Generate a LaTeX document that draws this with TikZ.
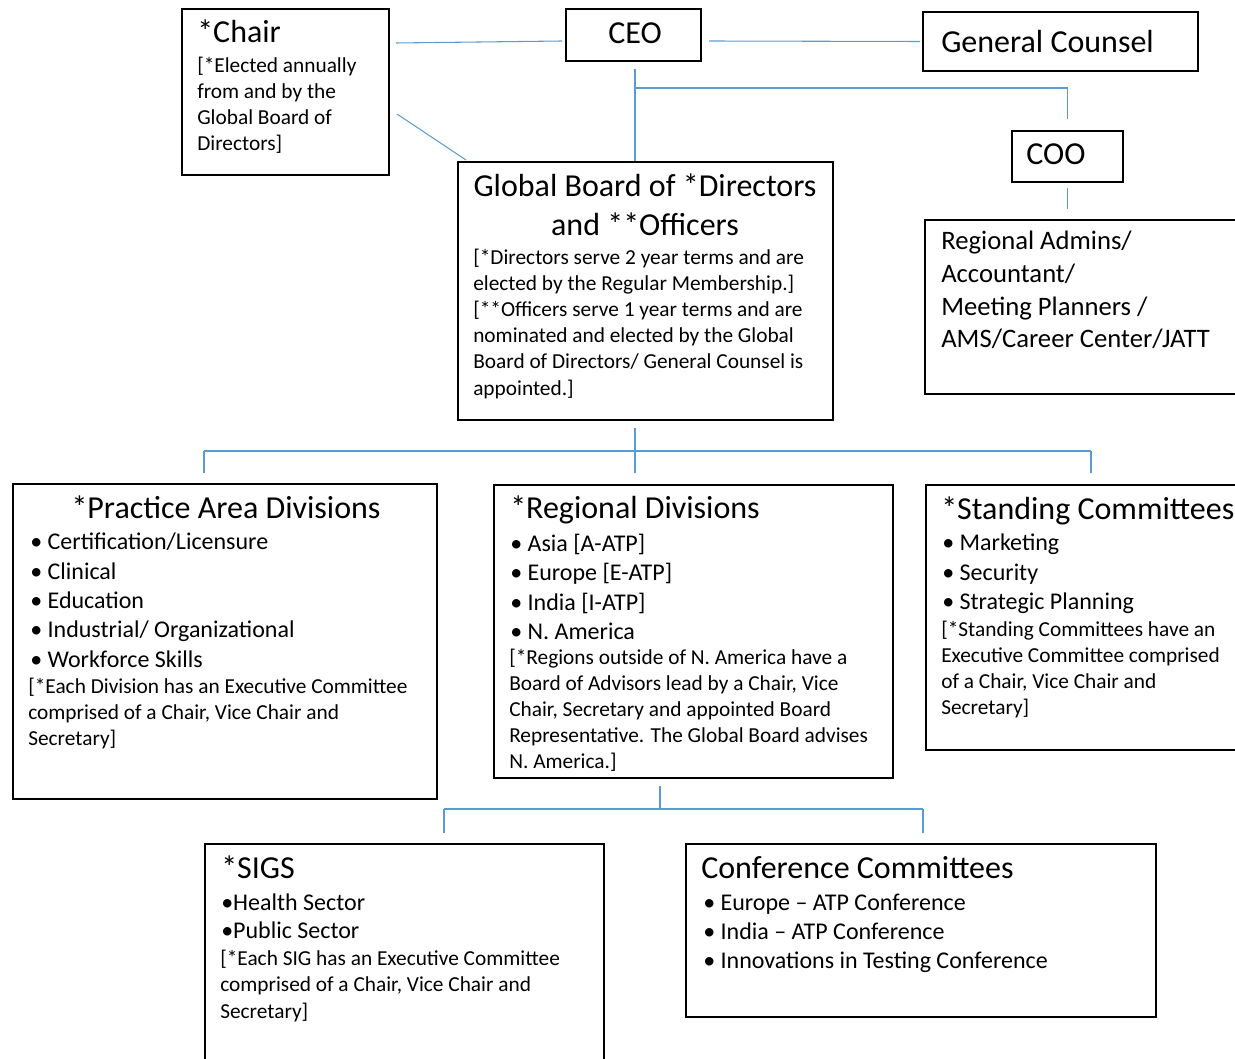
\documentclass[tikz,border=0pt]{standalone}
\usepackage{fontspec}
\setmainfont{Carlito}
\usetikzlibrary{fit}

\definecolor{linkblue}{RGB}{91,155,213}

\tikzset{
  box/.style={draw=black, line width=1.5pt, inner sep=0pt},
  link/.style={draw=linkblue, line width=0.8pt},
  ttl/.style={font=\fontsize{24}{29.25}\selectfont, inner sep=0pt, anchor=base west},
  note/.style={font=\fontsize{16}{19.6}\selectfont, inner sep=0pt, anchor=north west, align=left},
  items/.style={font=\fontsize{18}{21.95}\selectfont, inner sep=0pt, anchor=north west, align=left},
  staff/.style={font=\fontsize{20}{24.5}\selectfont, inner sep=0pt, anchor=north west, align=left}
}

\begin{document}
\begin{tikzpicture}[x=0.75pt, y=-0.75pt]
\useasboundingbox (0,0) rectangle (1235,1059);
\clip (0,0) rectangle (1235,1059);

% boxes
\node[box, fit={(182,9)(389,175)}] (chair) {};
\node[box, fit={(566,9)(701,61)}] (ceo) {};
\node[box, fit={(923,12)(1198,71)}] (gc) {};
\node[box, fit={(1012,131)(1123,182)}] (coo) {};
\node[box, fit={(925,220)(1260,394)}] (admins) {};
\node[box, fit={(458,162)(833,420)}] (board) {};
\node[box, fit={(13,484)(437,799)}] (practice) {};
\node[box, fit={(494,485)(893,778)}] (regional) {};
\node[box, fit={(926,485)(1260,750)}] (standing) {};
\node[box, fit={(205,844)(604,1080)}] (sigs) {};
\node[box, fit={(686,844)(1156,1017)}] (conf) {};

% texts
\node[ttl] (chairttl) at (197,43) {*Chair};
\node[note] (chairnote) at (197,56.7) {[*Elected annually\\from and by the\\Global Board of\\Directors]};
\node[ttl, anchor=base] (ceottl) at (635,44) {CEO};
\node[ttl] (gcttl) at (941,53) {General Counsel};
\node[ttl] (coottl) at (1026,165) {COO};
\node[staff] (staffs) at (941,231) {Regional Admins/\\Accountant/\\Meeting Planners /\\AMS/Career Center/JATT};

\node[ttl, anchor=north, align=center] (boardttl) at (645,173.5) {Global Board of *Directors\\and **Officers};
\node[note] (boardnote) at (473,248.7) {[*Directors serve 2 year terms and are\\elected by the Regular Membership.]\\{}[**Officers serve 1 year terms and are\\nominated and elected by the Global\\Board of Directors/ General Counsel is\\appointed.]};

\node[ttl, anchor=base] (practicettl) at (226,518) {*Practice Area Divisions};
\node[items] (practicelist) at (30,533) {• Certification/Licensure\\• Clinical\\• Education\\• Industrial/ Organizational\\• Workforce Skills};
\node[note] (practicenote) at (28,677.7) {[*Each Division has an Executive Committee\\comprised of a Chair, Vice Chair and\\Secretary]};

\node[ttl] (regionalttl) at (510,518) {*Regional Divisions};
\node[items] (regionallist) at (510,534) {• Asia [A-ATP]\\• Europe [E-ATP]\\• India [I-ATP]\\• N. America};
\node[note] (regionalnote) at (509,648.7) {[*Regions outside of N. America have a\\Board of Advisors lead by a Chair, Vice\\Chair, Secretary and appointed Board\\Representative. The Global Board advises\\N. America.]};

\node[ttl] (standingttl) at (941,519) {*Standing Committees};
\node[items] (standinglist) at (942,534) {• Marketing\\• Security\\• Strategic Planning};
\node[note] (standingnote) at (941,620.7) {[*Standing Committees have an\\Executive Committee comprised\\of a Chair, Vice Chair and\\Secretary]};

\node[ttl] (sigsttl) at (221,878) {*SIGS};
\node[items, font=\fontsize{18}{21}\selectfont] (sigslist) at (221,894) {•Health Sector\\•Public Sector};
\node[note, font=\fontsize{16}{19.9}\selectfont] (sigsnote) at (220,949.7) {[*Each SIG has an Executive Committee\\comprised of a Chair, Vice Chair and\\Secretary]};

\node[ttl] (confttl) at (701,878) {Conference Committees};
\node[items, font=\fontsize{18}{21.75}\selectfont] (conflist) at (703,894) {• Europe – ATP Conference\\• India – ATP Conference\\• Innovations in Testing Conference};

% connectors
\coordinate (ceofork) at (635,88);
\coordinate (boardfork) at (635,451);
\coordinate (regionalfork) at (660,809);

\draw[link] ([shift={(6,-49)}]chair.east) -- ([shift={(-3,6)}]ceo.west);
\draw[link] ([shift={(7,22)}]chair.east) -- ([shift={(9,-1)}]board.north west);
\draw[link] ([shift={(7,6)}]ceo.east) -- ([shift={(-2,0)}]gc.west);
\draw[link] ([shift={(1.5,7)}]ceo.south) -- ([shift={(-10.5,0)}]board.north);
\draw[link] (ceofork) -- (ceofork -| coo.north) -- ([shift={(0,-11)}]coo.north);
\draw[link] ([shift={(0,5)}]coo.south) -- ++(0,21);

\draw[link] ([shift={(-10.5,7)}]board.south) -- (boardfork);
\draw[link] (boardfork) -- ++(0,22);
\draw[link] (boardfork -| 204,0) -- (boardfork -| 1091,0);
\draw[link] (boardfork -| 204,0) -- ++(0,22);
\draw[link] (boardfork -| 1091,0) -- ++(0,22);

\draw[link] (regionalfork) -- ++(0,-23);
\draw[link] (regionalfork -| 444,0) -- (regionalfork -| 923,0);
\draw[link] (regionalfork -| 444,0) -- ++(0,24);
\draw[link] (regionalfork -| 923,0) -- ++(0,24);
\end{tikzpicture}
\end{document}
